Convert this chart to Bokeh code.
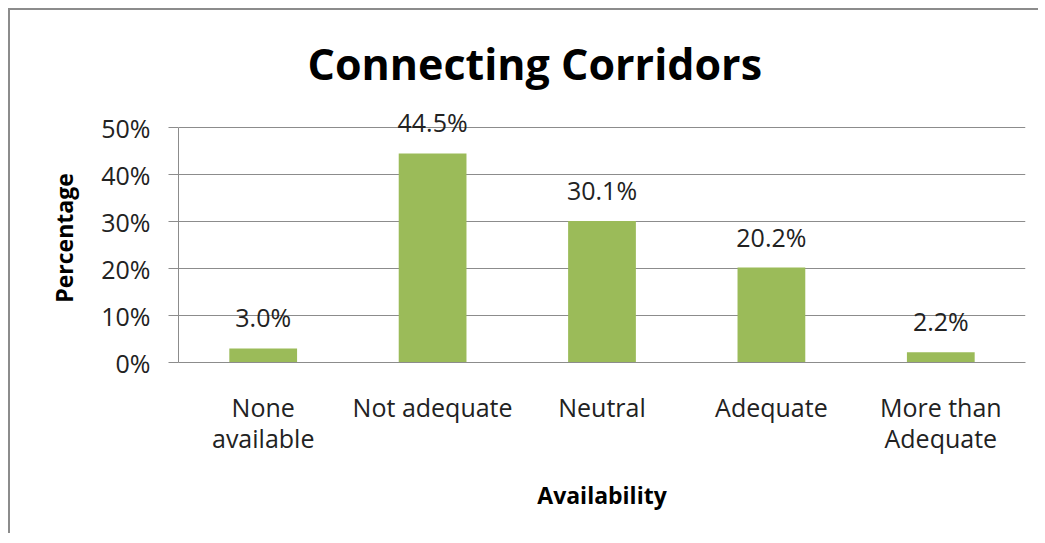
from bokeh.plotting import figure
from bokeh.models import ColumnDataSource, PrintfTickFormatter, LabelSet
from bokeh.core.properties import value
from bokeh.embed import file_html
from bokeh.resources import INLINE

categories = ["None\navailable", "Not adequate", "Neutral", "Adequate", "More than\nAdequate"]
values = [3.0, 44.5, 30.1, 20.2, 2.2]
labels = ["3.0%", "44.5%", "30.1%", "20.2%", "2.2%"]
y_ticks = [0, 10, 20, 30, 40, 50]

FONT = "Open Sans"
GRAY = "#8c8c8c"

src = ColumnDataSource(dict(cat=categories, val=values, lab=labels))

# frame: 0 -> y=362, 50 -> y=127 (4.7 px per unit); range extended to 53 so labels are not clipped
p = figure(x_range=categories, y_range=(0, 53), width=1030, height=525,
           output_backend="svg", toolbar_location=None,
           min_border_left=168, min_border_right=15, min_border_top=103, min_border_bottom=173)
p.styles = {"border-left": "2px solid #8c8c8c", "border-top": "2px solid #8c8c8c",
            "margin-left": "8px", "margin-top": "8px"}

p.vbar(x="cat", top="val", width=0.4, source=src, fill_color="#9BBB59", line_color=None)

p.add_layout(LabelSet(x="cat", y="val", text="lab", source=src, text_align="center",
                      text_baseline="alphabetic", y_offset=21, text_font=value(FONT),
                      text_font_size=value("25px"), text_color="#222222"))

p.title.text = "Connecting Corridors"
p.title.align = "left"
p.title.offset = 129
p.title.text_font = FONT
p.title.text_font_size = "43px"
p.title.text_font_style = "bold"
p.title.text_color = "#000000"
p.title.standoff = 42

p.outline_line_color = None
p.background_fill_color = "white"
p.border_fill_color = "white"

p.xgrid.grid_line_color = None
p.ygrid.grid_line_color = GRAY
p.ygrid.grid_line_width = 1

p.yaxis.ticker = y_ticks
p.yaxis.bounds = (0, 50)
p.yaxis.formatter = PrintfTickFormatter(format="%d%%")
p.yaxis.axis_line_color = GRAY
p.yaxis.major_tick_line_color = GRAY
p.yaxis.major_tick_out = 10
p.yaxis.major_tick_in = 0
p.yaxis.minor_tick_line_color = None
p.yaxis.major_label_standoff = 18
p.yaxis.axis_label = "Percentage"
p.yaxis.axis_label_text_font = FONT
p.yaxis.axis_label_text_font_size = "23px"
p.yaxis.axis_label_text_font_style = "bold"
p.yaxis.axis_label_text_color = "#000000"
p.yaxis.axis_label_standoff = 18

p.xaxis.axis_line_color = GRAY
p.xaxis.major_tick_line_color = None
p.xaxis.minor_tick_line_color = None
p.xaxis.major_label_standoff = 21
p.xaxis.major_label_text_line_height = 0.94
p.xaxis.axis_label = "Availability"
p.xaxis.axis_label_text_font = FONT
p.xaxis.axis_label_text_font_size = "23px"
p.xaxis.axis_label_text_font_style = "bold"
p.xaxis.axis_label_text_color = "#000000"
p.xaxis.axis_label_standoff = 21

for ax in (p.xaxis, p.yaxis):
    ax.major_label_text_font = FONT
    ax.major_label_text_font_size = "25px"
    ax.major_label_text_color = "#222222"

open("out.html", "w").write(file_html(p, INLINE))
